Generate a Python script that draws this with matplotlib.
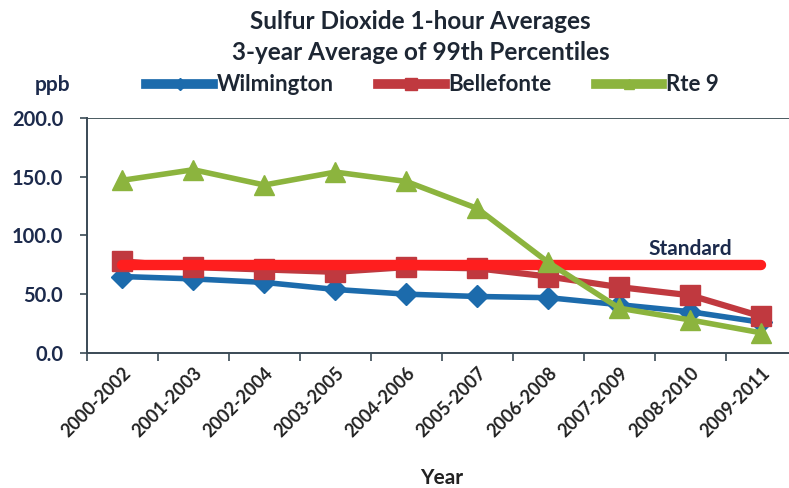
import numpy as np
import matplotlib.pyplot as plt
from matplotlib.lines import Line2D

plt.rcParams['font.family'] = ['Lato', 'DejaVu Sans']

# 3-year averages of the 99th percentile 1-hour SO2 values (ppb)
periods = ["2000-2002", "2001-2003", "2002-2004", "2003-2005", "2004-2006",
           "2005-2007", "2006-2008", "2007-2009", "2008-2010", "2009-2011"]
wilmington = [65, 63, 60, 54, 50, 48, 47, 41, 35, 26]
bellefonte = [78, 73, 71, 69, 73, 72, 65, 56, 49, 31]
rte9 = [147, 156, 143, 154, 146, 123, 77, 38, 28, 17]
standard = 75

navy = '#1c2a4c'
c_wil = '#1c6bac'
c_bel = '#c0393f'
c_rte = '#8cb43e'
c_std = '#ff1e1e'

fig = plt.figure(figsize=(7.89, 4.88), dpi=100)
ax = fig.add_axes([0.110, 0.277, 0.900, 0.481])

x = np.arange(len(periods))
ax.plot(x, wilmington, color=c_wil, lw=4.0, marker='D', ms=11, zorder=3)
ax.plot(x, bellefonte, color=c_bel, lw=4.5, marker='s', ms=15, zorder=4)
ax.plot(x, [standard] * len(x), color=c_std, lw=7.5, solid_capstyle='round', zorder=5)
ax.plot(x, rte9, color=c_rte, lw=4, marker='^', ms=15, zorder=6)

ax.text(8.0, standard + 5, "Standard", color=navy, fontsize=15, fontweight='bold',
        ha='center', va='bottom')

ax.set_xlim(-0.5, 9.5)
ax.set_ylim(0, 200)
ax.set_yticks([0, 50, 100, 150, 200])
ax.set_yticklabels([f"{v:.1f}" for v in [0, 50, 100, 150, 200]],
                   fontsize=14.5, fontweight='bold', color=navy)
ax.set_xticks(x)
ax.set_xticklabels(periods, rotation=45, ha='right', rotation_mode='anchor',
                   fontsize=13, fontweight='bold', color='#222222')
ax.set_xticks(np.arange(-0.5, 10, 1), minor=True)
ax.tick_params(axis='x', which='major', length=0, pad=8)
ax.tick_params(axis='x', which='minor', length=6, width=1.2, color='#3a4a55')
ax.tick_params(axis='y', length=5, width=1.2, color='#3a4a55', pad=12)
ax.axhline(200, color='#4a5a60', lw=1.4, zorder=1)
for side in ['top', 'right']:
    ax.spines[side].set_visible(False)
for side in ['left', 'bottom']:
    ax.spines[side].set_color('#3a4a55')
    ax.spines[side].set_linewidth(1.4)

ax.set_xlabel("Year", fontsize=15, fontweight='bold', color='#222222', labelpad=20)

fig.text(0.533, 0.955, "Sulfur Dioxide 1-hour Averages", ha='center', va='center',
         fontsize=17.5, fontweight='bold', color='#1d2633')
fig.text(0.533, 0.893, "3-year Average of 99th Percentiles", ha='center', va='center',
         fontsize=17.5, fontweight='bold', color='#1d2633')
fig.text(0.066, 0.826, "ppb", ha='center', va='center', fontsize=15,
         fontweight='bold', color=navy)

handles = [
    Line2D([], [], color=c_wil, lw=7, marker='D', ms=6),
    Line2D([], [], color=c_bel, lw=7, marker='s', ms=8),
    Line2D([], [], color=c_rte, lw=7, marker='^', ms=7),
]
fig.legend(handles, ["Wilmington", "Bellefonte", "Rte 9"], ncol=3,
           loc='center', bbox_to_anchor=(0.548, 0.826), frameon=False,
           handlelength=3.0, handletextpad=0.15, columnspacing=2.0,
           prop={'size': 16, 'weight': 'bold'}, labelcolor='#1d2633')

fig.savefig('out.png', dpi=100)
